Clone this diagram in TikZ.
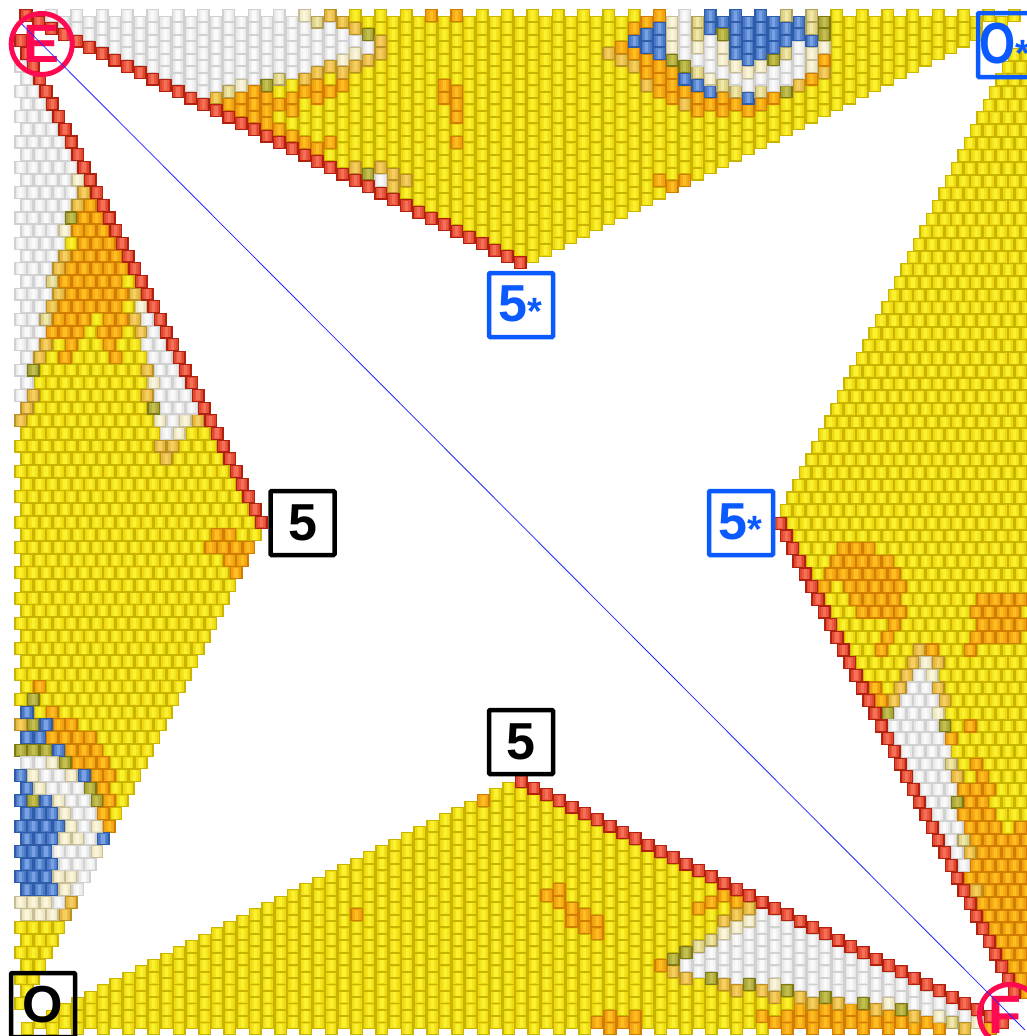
\documentclass[tikz,border=0pt]{standalone}
\usepackage{fontspec}
\usepackage{graphicx}
\setmainfont{Liberation Sans}
\definecolor{tagBlue}{HTML}{0A5AFF}
\definecolor{tagRed}{HTML}{FF0A50}
\newif\ifrowbeads
\newcommand{\beadcolour}[5]{\expandafter\def\csname bead#1\endcsname{#2 rg -6.5 -6.5 13 13 re f #3 rg -5 -5.4 10 10.8 re f #4 rg -3.4 -5.2 6.8 10.4 re f #5 rg -1.6 -5 3.2 10 re f}}
\beadcolour{yel}{.79 .71 0}{.93 .85 .05}{.96 .90 .12}{.98 .95 .19}
\beadcolour{ora}{.82 .49 0}{.94 .63 .06}{.97 .68 .09}{1 .75 .13}
\beadcolour{gold}{.72 .57 .16}{.90 .71 .24}{.93 .76 .30}{.96 .81 .38}
\beadcolour{cream}{.78 .74 .59}{.93 .90 .75}{.95 .93 .80}{.98 .96 .86}
\beadcolour{tan}{.69 .63 .38}{.86 .81 .50}{.90 .85 .57}{.94 .91 .66}
\beadcolour{olive}{.49 .48 .08}{.66 .64 .21}{.71 .69 .26}{.77 .75 .31}
\beadcolour{whit}{.82 .82 .82}{.91 .91 .91}{.95 .95 .95}{.98 .98 .98}
\beadcolour{blu}{.18 .36 .66}{.29 .47 .78}{.36 .54 .82}{.48 .63 .89}
\beadcolour{red}{.69 .13 .06}{.88 .28 .18}{.92 .35 .25}{.96 .44 .35}
\makeatletter
\newcommand{\bead}[3]{%
  \pgfmathsetmacro\bx{.99626*#1}\pgfmathsetmacro\by{-.99626*#2}%
  \pgfsys@invoke{q 1 0 0 1 \bx\space\by\space cm \csname bead#3\endcsname\space Q }}
\makeatother
\newcommand{\putbead}[3]{\ifrowbeads\bead{#2}{#1}{#3}\else\bead{#1}{#2}{#3}\fi}
\newcommand{\beadband}[8]{%
  \foreach \nl in {#8,...,#5}{%
    \pgfmathsetmacro\uu{\uo+12.67*(\nl)}%
    \pgfmathsetmacro\ft{(\nl-(#2))/max(1,(#5)-(#2))}%
    \pgfmathsetmacro\vlo{#3+\ft*(#6-(#3))}%
    \pgfmathsetmacro\vhi{#4+\ft*(#7-(#4))}%
    \pgfmathtruncatemacro\ilo{ceil((\vlo-\vo)/6.335)}%
    \pgfmathtruncatemacro\ilo{\ilo+abs(mod(\ilo-(\nl),2))}%
    \pgfmathtruncatemacro\ihi{floor((\vhi-\vo)/6.335)}%
    \pgfmathtruncatemacro\ihi{\ihi-abs(mod(\ihi-(\nl),2))}%
    \ifnum\ihi<\ilo\else
      \pgfmathtruncatemacro\cnt{(\ihi-\ilo)/2}%
      \foreach \jj in {0,...,\cnt}{%
        \pgfmathsetmacro\vv{\vo+6.335*(\ilo+2*\jj)}%
        \putbead{\uu}{\vv}{#1}}%
    \fi}}
\newcommand{\beadshape}[2]{%
  \foreach \nn/\lo/\hi [count=\st, remember=\nn as \prevn, remember=\lo as \prevlo, remember=\hi as \prevhi] in {#2}{%
    \ifnum\st>1
      \ifnum\st=2 \edef\first{\prevn}\else\pgfmathtruncatemacro\first{\prevn+1}\fi
      \beadband{#1}{\prevn}{\prevlo}{\prevhi}{\nn}{\lo}{\hi}{\first}%
    \fi}}
\newcommand{\beaddots}[4]{%
  \foreach \zx/\zy in {#4}{%
    \pgfmathsetmacro\px{#2+\zx/3}\pgfmathsetmacro\py{#3+\zy/3}%
    \ifrowbeads\let\du\py\let\dv\px\else\let\du\px\let\dv\py\fi
    \pgfmathtruncatemacro\nd{round((\du-\uo)/12.67)}%
    \pgfmathtruncatemacro\pty{abs(mod(\nd,2))}%
    \pgfmathtruncatemacro\id{2*round(((\dv-\vo)/6.335-\pty)/2)+\pty}%
    \pgfmathsetmacro\uu{\uo+12.67*(\nd)}%
    \pgfmathsetmacro\vv{\vo+6.335*(\id)}%
    \putbead{\uu}{\vv}{#1}}}
\newcommand{\tagstar}{\raisebox{-3pt}{\fontsize{38}{38}\selectfont *}}
\begin{document}
\begin{tikzpicture}[x=1pt, y=-1pt,
tagbox/.style={draw, line width=4.5pt, rounded corners=1pt, minimum size=64pt, inner sep=0pt,
  font=\fontsize{52}{52}\selectfont\bfseries},
cornertag/.style={circle, draw=tagRed, text=tagRed, line width=5pt, minimum size=61pt, inner sep=0pt,
  font=\fontsize{54}{54}\selectfont\bfseries}]
\useasboundingbox (0,0) rectangle (1027,1036);
\fill[white] (0,0) rectangle (1027,1036);
\clip (0,0) rectangle (1027,1036);
% left wedge
\rowbeadstrue\def\uo{15.3}\def\vo{8}
\beadshape{yel}{3/18/15.3, 40/18/249.7, 41/18/256, 78/18/21.7}
\beadshape{whit}{4/16/22, 13/16/79, 14/16/73.7, 15/16/67.7, 16/16/61.3, 17/16/55, 18/16/61.3, 19/16/55, 20/16/48.7, 21/16/42, 22/16/48.7, 23/16/42, 24/16/35.3, 25/16/42, 26/16/35.3, 27/16/28.7, 28/16/22, 29/16/28.7, 30/16/22}
\beaddots{tan}{0}{170}{159/334,140/448}
\beaddots{cream}{0}{170}{235/30,197/182,425/410,463/638,482/752,558/752,539/790}
\beaddots{gold}{0}{170}{253/68,235/106,197/258,178/296,178/372,406/372,159/410,406/448,425/486,140/524,120/562,444/600,100/676,444/676,80/714,60/752,596/752,482/828,520/828,501/866}
\beaddots{olive}{0}{170}{215/144,100/600,463/714}
\beaddots{ora}{0}{170}{272/106,253/144,290/144,235/182,272/182,310/182,253/220,290/220,330/220,235/258,272/258,310/258,348/258,215/296,253/296,290/296,330/296,368/296,197/334,235/334,272/334,310/334,348/334,215/372,253/372,290/372,330/372,368/372,197/410,235/410,272/410,310/410,348/410,178/448,215/448,253/448,330/448,368/448,159/486,197/486,235/486,310/486,348/486,215/524,330/524,197/562,348/562}
\beaddots{whit}{0}{170}{444/448,463/486,444/524,482/524,463/562,501/562,482/600,520/600,501/638,539/638,482/676,520/676,558/676,501/714,539/714,577/714,520/752,501/790}
\beaddots{ora}{180}{470}{115/195,150/195,95/232,130/232,170/232,207/232,150/270,187/270,170/308}
\beaddots{ora}{0}{670}{120/50,158/127,178/165,215/165,158/203,196/203,234/203,272/203,215/240,253/240,291/240,234/277,272/277,310/277,291/315,329/315,310/353,329/391,310/429,329/467}
\beaddots{gold}{0}{670}{60/165,215/695,196/733}
\beaddots{olive}{0}{670}{100/90,100/165,60/240,100/240,140/240,196/277,272/353,100/391,291/391}
\beaddots{blu}{0}{670}{80/127,140/165,80/203,120/203,178/240,60/315,253/315,80/353,60/391,140/391,80/429,120/429,158/429,60/467,100/467,140/467,178/467,80/505,120/505,158/505,310/505,60/543,100/543,140/543,80/581,120/581,158/581,60/619,100/619,140/619,80/657,120/657,158/657}
\beaddots{cream}{0}{670}{158/277,100/315,215/315,120/353,178/391,196/429,215/467,291/467,196/505,234/505,291/543,178/619,215/619,196/657,60/695,100/695,140/695,80/733,120/733,158/733}
\beaddots{whit}{0}{670}{80/277,120/277,140/315,178/315,158/353,196/353,234/353,215/391,253/391,234/429,272/429,253/467,272/505,178/543,215/543,253/543,196/581,234/581,272/581,253/619,234/657,178/695}
\beadshape{red}{2/18.7/22.7, 40/259.4/263.4}
% top wedge
\rowbeadsfalse\def\uo{76.7}\def\vo{15.7}
\beadshape{yel}{-2/14/16.7, 35/14/251.1, 36/14/257.4, 70/14/42, 71/14/36, 72/14/17, 73/14/23, 74/14/17}
\beadshape{whit}{-2/14/17, 10/14/93, 11/14/88, 12/14/81, 13/14/75, 14/14/81, 15/14/75, 16/14/68, 17/14/74, 18/24/68, 19/24/62, 20/24/56, 21/27/50, 22/35/43, 23/40/50}
\beaddots{cream}{60}{0}{734/47,544/259,848/180,886/161}
\beaddots{tan}{60}{0}{772/66,506/278,658/240}
\beaddots{olive}{60}{0}{620/259,924/104,924/522}
\beaddots{gold}{60}{0}{468/297,810/47,848/66,886/85,962/123,962/161,924/180,886/199,848/218,810/199,772/218,734/237,886/503,962/503,1000/522,1000/560,1038/541}
\beaddots{ora}{60}{0}{506/316,544/297,544/335,582/278,582/316,582/354,620/297,620/335,620/373,658/316,658/392,696/294,696/332,696/408,734/275,734/427,772/256,772/294,772/446,810/275,810/427,848/256,1152/256,1152/294,1190/275,1190/313,1190/351,1190/427,1114/47,1190/47}
\beaddots{whit}{60}{0}{962/541}
\beaddots{gold}{600}{0}{30/161,67/180,105/199,143/256,257/313,599/256,675/218}
\beaddots{ora}{600}{0}{67/142,105/85,105/161,143/66,143/180,143/218,181/47,181/199,181/237,181/275,219/218,219/256,219/294,257/275,295/294,295/332,333/313,371/294,371/332,409/313,447/332,485/313,523/294,637/237,675/180,180/540,216/561,255/540}
\beaddots{blu}{600}{0}{105/123,143/104,143/142,181/85,181/123,181/161,257/237,295/256,333/47,333/85,333/275,371/66,409/47,409/85,409/123,409/161,447/66,447/104,447/142,447/180,447/294,485/47,485/85,485/123,485/161,523/66,523/104,523/142,561/85,561/123,599/66,599/104,637/123}
\beaddots{cream}{600}{0}{219/66,219/104,219/142,295/142,333/237,371/142,371/180,409/199,447/218,485/199,637/161,637/199,675/142}
\beaddots{tan}{600}{0}{295/66,295/104,295/218,371/256,409/275,485/275,561/47,561/161,637/47,637/85}
\beaddots{olive}{600}{0}{219/180,257/199,371/104,523/180,561/275,675/66,675/104}
\beaddots{whit}{600}{0}{257/47,257/85,257/123,257/161,295/180,333/123,333/161,333/199,371/218,409/237,447/256,485/237,523/218,523/256,561/199,561/237,599/142,599/180,599/218}
\beadshape{red}{-4/13.7/17.7, 35/260.8/264.8}
% right wedge
\rowbeadstrue\def\uo{523.3}\def\vo{780}
\beadshape{yel}{-37/1013.4/1035, -1/785.3/1035, 0/791.7/1035, 37/1026/1035}
\beadshape{ora}{25/950/1035, 37/1026/1035}
\beaddots{ora}{770}{510}{220/116,258/116,296/116,201/154,239/154,277/154,315/154,353/154,182/192,220/192,258/192,296/192,334/192,372/192,163/230,239/230,277/230,315/230,353/230,391/230,258/268,296/268,334/268,372/268,638/268,676/268,714/268,752/268,277/306,315/306,353/306,391/306,619/306,657/306,695/306,733/306,372/344,638/344,676/344,714/344,752/344,353/382,619/382,657/382,695/382,733/382,334/420,486/420,600/420,315/534,334/572,600/648,543/686,619/762}
\beaddots{gold}{770}{510}{448/420,429/458,505/458,410/496,391/534,505/534,372/572,524/572}
\beaddots{cream}{770}{510}{467/458,486/496,505/610}
\beaddots{tan}{770}{510}{543/762}
\beaddots{olive}{770}{510}{353/610,524/648}
\beaddots{whit}{770}{510}{448/496,429/534,467/534,410/572,448/572,486/572,391/610,429/610,467/610,372/648,410/648,448/648,486/648,391/686,429/686,467/686,505/686,410/724,448/724,486/724,524/724,429/762,467/762,505/762}
\beaddots{whit}{860}{740}{178/106,216/106,254/106,197/144,235/144,273/144,216/182,254/182,235/220,273/220,254/258,292/258,273/296,292/334,311/372}
\beaddots{tan}{860}{740}{311/296,311/410}
\beaddots{gold}{860}{740}{292/106,330/334,349/448}
\beaddots{olive}{860}{740}{292/182}
\beaddots{ora}{860}{740}{368/106,311/144,349/144,387/144,330/182,368/182,311/220,349/220,387/220,330/258,368/258,406/258,482/258}
\beadshape{red}{0/778/782, 37/1012.4/1016.4}
% bottom wedge
\rowbeadsfalse\def\uo{521.3}\def\vo{781.7}
\beadshape{yel}{-39/1027.8/1031, -1/787/1031, 0/793/1031, 37/1027.8/1031}
\beadshape{ora}{20/1020/1031, 21/1015/1031, 22/1008/1031, 37/1008/1031}
\beadshape{whit}{13/964/966.5, 14/958/973, 15/951.5/966.5, 16/945/973, 17/939/979, 18/932.5/973, 19/913.5/979, 20/920/973, 21/926/979, 22/932.5/985.5, 23/939/992, 24/945/985.5, 25/951.5/992, 26/958/998, 27/964/992, 28/970.5/998, 29/977/992, 30/983/998, 31/989.5/1004.5, 32/996/1011, 33/1002/1004.5, 34/1008.5/1011, 35/1015/1017}
\beaddots{ora}{640}{860}{63/316,177/145,215/126,253/107,291/126,367/468}
\beaddots{gold}{640}{860}{329/145,291/164,253/183,100/335,139/354,253/373,291/392,367/392,405/411,481/411,519/430,595/430,709/449,823/468,975/506}
\beaddots{cream}{640}{860}{329/183,291/202,253/221,405/373,747/430,899/468,1013/487}
\beaddots{tan}{640}{860}{215/240,177/259,937/487}
\beaddots{olive}{640}{860}{101/297,139/278,215/354,329/373,443/392,557/411,671/430,785/449}
\beaddots{ora}{440}{700}{128/300,322/585,360/565,360/603,398/622,398/660,436/641,436/679,474/660,474/698}
\beaddots{ora}{300}{900}{165/36}
\beaddots{ora}{590}{1000}{36/66,72/45,72/84,111/66,150/45,150/84}
\beadshape{red}{0/779.7/783.7, 38/1020.4/1024.4}
% labels
\node[cornertag] (E) at (41.7,44) {E};
\node[cornertag] (F) at (1010,1015) {\hspace*{-10pt}F};
\draw[blue!85!white, line width=.8pt, shorten <=5pt, shorten >=12pt] (E.135) -- (F.-45);
\node[tagbox] (leftFive) at (302.5,523) {5};
\node[tagbox] (lowFive) at (521,742) {5};
\node[tagbox, draw=tagBlue, text=tagBlue] (topFive) at (521,305) {\kern-2pt 5\tagstar};
\node[tagbox, draw=tagBlue, text=tagBlue] (rightFive) at (741,523) {\kern-2pt 5\tagstar};
\node[tagbox] (origin) at (43,1005) {O};
\node[tagbox, draw=tagBlue, text=tagBlue] (originStar) at (1010,45) {\hspace*{-10pt}\fontsize{58}{58}\selectfont\scalebox{.8}[1]{O}\tagstar};
\end{tikzpicture}
\end{document}
